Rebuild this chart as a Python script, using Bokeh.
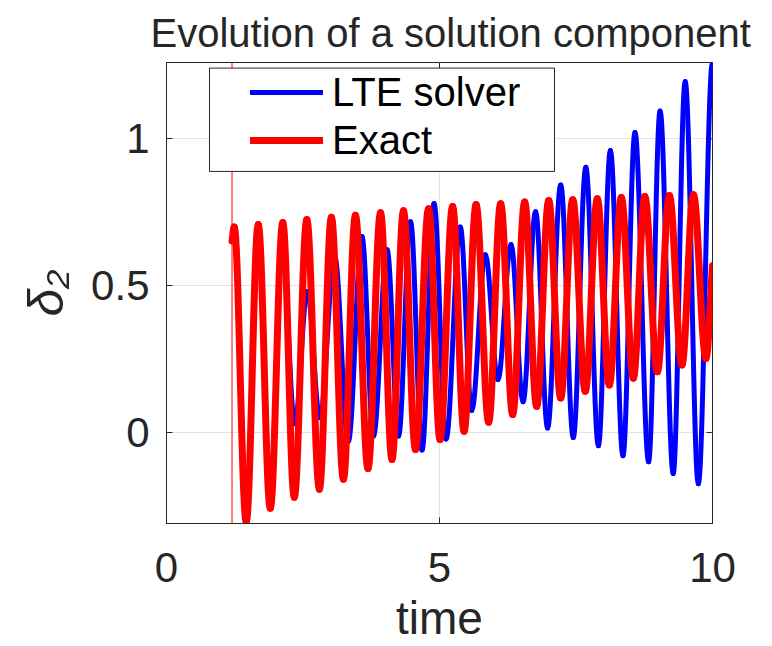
import numpy as np
from bokeh.plotting import figure
from bokeh.models import Range1d, FixedTicker, Span, Legend, LegendItem, BoxAnnotation
from bokeh.embed import file_html
from bokeh.resources import INLINE

# ---------------- data ----------------
title_text = "Evolution of a solution component"
x_label = "time"
y_label = "δ₂"
series_names = ["LTE solver", "Exact"]
x_ticks = [0, 5, 10]
x_tick_labels = ["0", "5", "10"]
y_ticks = [0, 0.5, 1]
y_tick_labels = ["0", "0.5", "1"]
start_time = 1.2

# Exact solution: turning points (time, value)
exact_t = [1.20, 1.24, 1.46, 1.68, 1.90, 2.13, 2.34, 2.57, 2.80, 3.02,
           3.24, 3.46, 3.69, 3.92, 4.13, 4.34, 4.56, 4.80, 5.01, 5.24,
           5.45, 5.67, 5.90, 6.12, 6.34, 6.56, 6.78, 7.00, 7.22, 7.44,
           7.67, 7.89, 8.11, 8.33, 8.55, 8.76, 8.99, 9.21, 9.44, 9.65,
           9.88, 10.00]
exact_v = [0.652, 0.700, -0.305, 0.708, -0.258, 0.715, -0.221, 0.725, -0.193, 0.733,
           -0.159, 0.740, -0.123, 0.748, -0.092, 0.755, -0.058, 0.762, -0.024, 0.770,
           0.004, 0.776, 0.035, 0.779, 0.061, 0.785, 0.089, 0.790, 0.117, 0.793,
           0.140, 0.796, 0.162, 0.800, 0.185, 0.804, 0.207, 0.807, 0.230, 0.810,
           0.252, 0.568]

# LTE solver: turning points (time, value)
lte_t = [1.20, 1.24, 1.46, 1.68, 1.90, 2.12, 2.35, 2.58, 2.81, 3.08,
         3.33, 3.58, 3.79, 4.04, 4.25, 4.47, 4.68, 4.90, 5.12, 5.38,
         5.59, 5.84, 6.07, 6.31, 6.53, 6.76, 6.98, 7.22, 7.45, 7.68,
         7.91, 8.13, 8.36, 8.58, 8.83, 9.04, 9.28, 9.50, 9.74, 10.00]
lte_v = [0.652, 0.700, -0.290, 0.700, -0.200, 0.640, 0.030, 0.480, 0.050, 0.600,
         -0.030, 0.667, -0.012, 0.622, -0.012, 0.718, -0.060, 0.780, -0.022, 0.700,
         0.075, 0.605, 0.180, 0.640, 0.105, 0.752, 0.015, 0.843, -0.017, 0.903,
         -0.045, 0.960, -0.079, 1.022, -0.100, 1.095, -0.140, 1.195, -0.175, 1.260]

# ---------------- styling ----------------
FONT = "Liberation Sans"
INK = "#262626"
X_END, Y_START, Y_END = 10, -0.31, 1.26
K = 0.3642  # bezier handle fraction giving a smooth half-wave between turning points


def smooth_segments(t, v):
    """Cubic Bezier pieces through the turning points (flat tangents at turning
    points, straight tangents at open ends)."""
    t = np.asarray(t, float)
    v = np.asarray(v, float)
    x0, x1, y0, y1 = t[:-1], t[1:], v[:-1], v[1:]
    dx = x1 - x0
    cx0, cx1 = x0 + K * dx, x1 - K * dx
    cy0, cy1 = y0.copy(), y1.copy()
    cy0[0] = y0[0] + K * (y1[0] - y0[0])
    if not (v[-1] >= max(v) or v[-1] <= min(v)):
        cy1[-1] = y1[-1] - K * (y1[-1] - y0[-1])
    return dict(x0=x0, y0=y0, x1=x1, y1=y1, cx0=cx0, cy0=cy0, cx1=cx1, cy1=cy1)


p = figure(width=772, height=646, output_backend="svg", toolbar_location=None,
           x_range=Range1d(0, X_END), y_range=Range1d(Y_START, Y_END),
           min_border_left=166, min_border_right=60,
           min_border_top=60, min_border_bottom=121,
           background_fill_color="white", border_fill_color="white")

p.title.text = title_text
p.title.text_font = FONT
p.title.text_font_size = "40px"
p.title.text_font_style = "normal"
p.title.text_line_height = 1.0
p.title.text_color = INK
p.title.align = "left"
p.title.offset = -16
p.title.standoff = 16

p.outline_line_color = INK
p.outline_line_width = 1
p.outline_line_alpha = 1

# grid
p.xgrid.ticker = FixedTicker(ticks=x_ticks)
p.ygrid.ticker = FixedTicker(ticks=y_ticks)
for g in (p.xgrid[0], p.ygrid[0]):
    g.grid_line_color = "#e3e3e3"
    g.grid_line_width = 1

xax = p.below[0]
yax = p.left[0]
xax.ticker = FixedTicker(ticks=x_ticks)
yax.ticker = FixedTicker(ticks=y_ticks)
xax.major_label_overrides = {t: s for t, s in zip(x_ticks, x_tick_labels)}
yax.major_label_overrides = {t: s for t, s in zip(y_ticks, y_tick_labels)}
for ax in (xax, yax):
    ax.axis_line_color = INK
    ax.major_tick_line_color = INK
    ax.major_tick_in = 6
    ax.major_tick_out = 0
    ax.minor_tick_line_color = None
    ax.major_label_text_font = FONT
    ax.major_label_text_font_size = "42px"
    ax.major_label_text_color = INK
    ax.axis_label_text_font = FONT
    ax.axis_label_text_color = INK
    ax.axis_label_text_font_style = "normal"
    ax.axis_label_text_font_size = "46px"

xax.axis_label = x_label
xax.major_label_standoff = 29
xax.axis_label_standoff = 7
yax.axis_label = y_label
yax.axis_label_text_font_style = "italic"
yax.axis_label_text_font_size = "50px"
yax.major_label_standoff = 17
yax.axis_label_standoff = 14

# mirrored inward ticks on the right and top edges of the box
p.ray(x=[X_END] * len(y_ticks), y=y_ticks, length=6, length_units="screen",
      angle=np.pi, line_color=INK, line_width=1)
p.ray(x=x_ticks, y=[Y_END] * len(x_ticks), length=6, length_units="screen",
      angle=-np.pi / 2, line_color=INK, line_width=1)

# series (smooth curves through the read turning points)
r_lte = p.bezier(line_color="#0000ff", line_width=5, line_cap="round",
                 **smooth_segments(lte_t, lte_v))
r_exact = p.bezier(line_color="#ff0000", line_width=7, line_cap="round",
                   **smooth_segments(exact_t, exact_v))

# thin vertical line at the start of the exact solution
p.add_layout(Span(location=start_time, dimension="height", line_color="#ff0000",
                  line_width=1))

# legend box + legend
p.add_layout(BoxAnnotation(left=0.787, right=7.106, bottom=0.889, top=1.241,
                           fill_color="white", fill_alpha=1.0,
                           line_color=INK, line_width=1, line_alpha=1.0))
legend = Legend(items=[LegendItem(label=series_names[0], renderers=[r_lte]),
                       LegendItem(label=series_names[1], renderers=[r_exact])],
                location=(84, 359), padding=0, spacing=0, margin=0,
                glyph_width=73, glyph_height=48, label_height=48,
                label_standoff=9, border_line_color=None,
                background_fill_alpha=0.0,
                label_text_font=FONT, label_text_font_size="40px",
                label_text_color="#000000")
p.add_layout(legend)

open("out.html", "w").write(file_html(p, INLINE))
